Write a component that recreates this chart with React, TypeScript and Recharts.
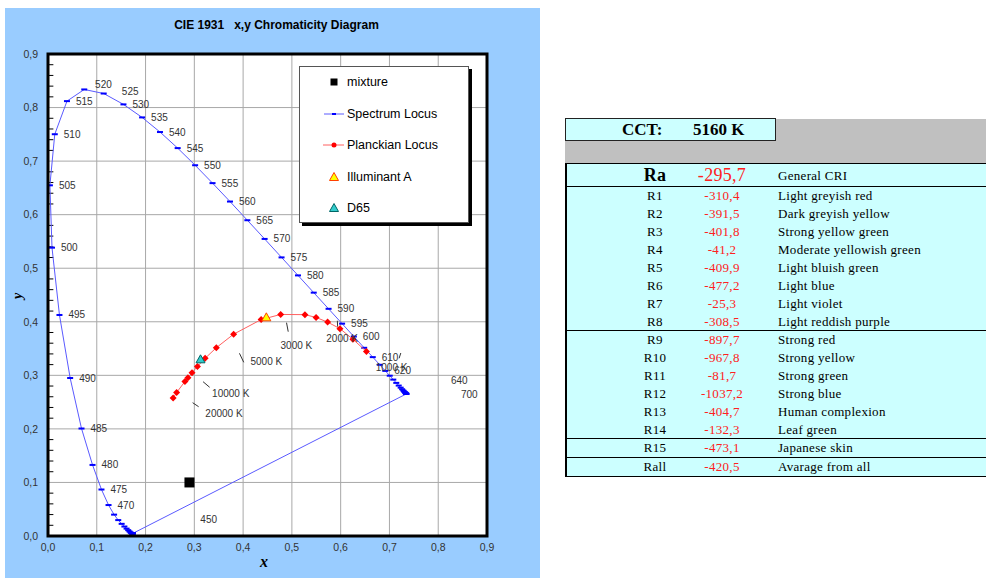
import { ScatterChart, Scatter, XAxis, YAxis, CartesianGrid, ReferenceLine, Legend } from "recharts"

// CIE 1931 spectral locus, every 5 nm
const wavelengths = [
  380, 385, 390, 395, 400, 405, 410, 415, 420, 425, 430, 435, 440, 445, 450, 455, 460, 465, 470, 475, 480, 485,
  490, 495, 500, 505, 510, 515, 520, 525, 530, 535, 540, 545, 550, 555, 560, 565, 570, 575, 580, 585, 590, 595,
  600, 605, 610, 615, 620, 625, 630, 635, 640, 645, 650, 655, 660, 665, 670, 675, 680, 685, 690, 695, 700,
]
const locusX = [
  0.1741, 0.174, 0.1738, 0.1736, 0.1733, 0.173, 0.1726, 0.1721, 0.1714, 0.1703, 0.1689, 0.1669, 0.1644, 0.1611,
  0.1566, 0.151, 0.144, 0.1355, 0.1241, 0.1096, 0.0913, 0.0687, 0.0454, 0.0235, 0.0082, 0.0039, 0.0139, 0.0389,
  0.0743, 0.1142, 0.1547, 0.1929, 0.2296, 0.2658, 0.3016, 0.3373, 0.3731, 0.4087, 0.4441, 0.4788, 0.5125, 0.5448,
  0.5752, 0.6029, 0.627, 0.6482, 0.6658, 0.6801, 0.6915, 0.7006, 0.7079, 0.714, 0.719, 0.723, 0.726, 0.7283, 0.73,
  0.7311, 0.732, 0.7327, 0.7334, 0.734, 0.7344, 0.7346, 0.7347,
]
const locusY = [
  0.005, 0.005, 0.0049, 0.0049, 0.0048, 0.0048, 0.0048, 0.0048, 0.0051, 0.0058, 0.0069, 0.0086, 0.0109, 0.0138,
  0.0177, 0.0227, 0.0297, 0.0399, 0.0578, 0.0868, 0.1327, 0.2007, 0.295, 0.4127, 0.5384, 0.6548, 0.7502, 0.812,
  0.8338, 0.8262, 0.8059, 0.7816, 0.7543, 0.7243, 0.6923, 0.6589, 0.6245, 0.5896, 0.5547, 0.5202, 0.4866, 0.4544,
  0.4242, 0.3965, 0.3725, 0.3514, 0.334, 0.3197, 0.3083, 0.2993, 0.292, 0.2859, 0.2809, 0.277, 0.274, 0.2717, 0.27,
  0.2689, 0.268, 0.2673, 0.2666, 0.266, 0.2656, 0.2654, 0.2653,
]
// wavelengths whose label sits right next to the mark
const labeledWl = [
  470, 475, 480, 485, 490, 495, 500, 505, 510, 515, 530, 535, 540, 545, 550, 555, 560, 565, 570, 575, 580, 585,
  590, 595, 600, 610, 620,
]
// labels Excel pushed away from their marks
const wlNotes = [
  { x: 0.0966, y: 0.8434, text: "520" },
  { x: 0.1514, y: 0.8296, text: "525" },
  { x: 0.3123, y: 0.0312, text: "450" },
  { x: 0.826, y: 0.29, text: "640" },
  { x: 0.8466, y: 0.2651, text: "700" },
]

// Planckian locus
const planckT = [1000, 1200, 1400, 1600, 1800, 2000, 2500, 3000, 4000, 5000, 6000, 7000, 8000, 9000, 10000, 15000, 20000]
const planckX = [0.6528, 0.6251, 0.5985, 0.5732, 0.5496, 0.5267, 0.477, 0.4369, 0.3805, 0.3451, 0.3221, 0.3064, 0.2952, 0.2869, 0.2807, 0.2637, 0.2565]
const planckY = [0.3444, 0.3674, 0.3872, 0.3994, 0.4081, 0.4133, 0.4137, 0.4041, 0.3768, 0.3516, 0.3318, 0.3166, 0.3048, 0.2956, 0.2884, 0.268, 0.2577]

const tempNotes = [
  { x: 0.3226, y: 0.2291, text: "20000 K" },
  { x: 0.3364, y: 0.2665, text: "10000 K" },
  { x: 0.4151, y: 0.3249, text: "5000 K" },
  { x: 0.4767, y: 0.3548, text: "3000 K" },
  { x: 0.5706, y: 0.3691, text: "2000 K" },
  { x: 0.6719, y: 0.3143, text: "1000 K" },
]
const tempLeaders = [
  [0.2965, 0.2489, 0.3088, 0.2414],
  [0.3179, 0.2881, 0.3314, 0.2777],
  [0.3925, 0.3411, 0.4013, 0.3243],
  [0.489, 0.3983, 0.4925, 0.3815],
  [0.5932, 0.402, 0.5938, 0.3908],
  [0.7233, 0.3417, 0.7198, 0.3318],
]

const illumA = [{ x: 0.4476, y: 0.4074 }]
const d65 = [{ x: 0.3127, y: 0.329 }]
const mixture = [{ x: 0.29, y: 0.1 }]

const axisTicks = [0, 0.1, 0.2, 0.3, 0.4, 0.5, 0.6, 0.7, 0.8, 0.9]

// CRI table
const cctLabel = "5160 K"
const raValue = -295.7
const criCodes = ["R1", "R2", "R3", "R4", "R5", "R6", "R7", "R8", "R9", "R10", "R11", "R12", "R13", "R14", "R15", "Rall"]
const criValues = [-310.4, -391.5, -401.8, -41.2, -409.9, -477.2, -25.3, -308.5, -897.7, -967.8, -81.7, -1037.2, -404.7, -132.3, -473.1, -420.5]
const criNames = [
  "Light greyish red",
  "Dark greyish yellow",
  "Strong yellow green",
  "Moderate yellowish green",
  "Light bluish green",
  "Light blue",
  "Light violet",
  "Light reddish purple",
  "Strong red",
  "Strong yellow",
  "Strong green",
  "Strong blue",
  "Human complexion",
  "Leaf green",
  "Japanese skin",
  "Avarage from all",
]
const groupEnds = ["R8", "R14", "R15"]

const comma = (v: number, d = 1) => v.toFixed(d).replace(".", ",")

const locusData = wavelengths.map((w, i) => ({
  x: locusX[i],
  y: locusY[i],
  label: labeledWl.includes(w) ? String(w) : "",
}))
// close the horseshoe with the line of purples
locusData.push({ x: locusX[0], y: locusY[0], label: "" })

const planckData = planckT.map((t, i) => ({ x: planckX[i], y: planckY[i], t }))

const yMinor = Array.from({ length: 46 }, (_, i) => i * 0.02).filter((v) => Math.round(v * 100) % 10 !== 0 && v < 0.9)

const noteStyle = { fontSize: 10, fill: "#333" }

const LocusMark = (p: any) => (
  <g>
    <rect x={p.cx - 3} y={p.cy - 1} width={6} height={2} fill="#0000ff" />
    {p.payload?.label ? (
      <text x={p.cx + 9} y={p.cy} dy="0.35em" {...noteStyle}>
        {p.payload.label}
      </text>
    ) : null}
  </g>
)

const NoteMark = (p: any) => (
  <text x={p.cx} y={p.cy} dy="0.35em" {...noteStyle}>
    {p.payload?.text}
  </text>
)

const Diamond = (p: any) => (
  <path d={`M${p.cx},${p.cy - 3.5}L${p.cx + 3.5},${p.cy}L${p.cx},${p.cy + 3.5}L${p.cx - 3.5},${p.cy}Z`} fill="#ff0000" />
)

const tri = (cx: number, cy: number, fill: string, stroke: string) => (
  <path d={`M${cx},${cy - 5}L${cx + 4.5},${cy + 3}L${cx - 4.5},${cy + 3}Z`} fill={fill} stroke={stroke} strokeWidth={1} />
)

const Square = (p: any) => <rect x={p.cx - 5} y={p.cy - 5} width={10} height={10} fill="#000" />

const legendItems = [
  { name: "mixture", kind: "square" },
  { name: "Spectrum Locus", kind: "blue" },
  { name: "Planckian Locus", kind: "red" },
  { name: "Illuminant A", kind: "a" },
  { name: "D65", kind: "d65" },
]

function LegendSymbol({ kind }: { kind: string }) {
  return (
    <svg width={47} height={16} style={{ display: "block", flex: "none" }}>
      {kind === "square" && <rect x={30.5} y={4.5} width={7} height={7} fill="#000" />}
      {kind === "blue" && (
        <>
          <line x1={24} x2={44} y1={8} y2={8} stroke="#5a5aff" />
          <rect x={32} y={7} width={4} height={2} fill="#0000ff" />
        </>
      )}
      {kind === "red" && (
        <>
          <line x1={23} x2={44} y1={8} y2={8} stroke="#ff6060" />
          <circle cx={34} cy={8} r={2.5} fill="#ff0000" />
        </>
      )}
      {kind === "a" && tri(34, 8.5, "#ffff00", "#ff4000")}
      {kind === "d65" && tri(34, 8.5, "#33cccc", "#006666")}
    </svg>
  )
}

function LegendBox() {
  return (
    <div
      style={{
        width: 170,
        height: 157,
        boxSizing: "border-box",
        background: "#fff",
        border: "1px solid #555",
        boxShadow: "3px 3px 0 #000",
        position: "relative",
        fontSize: 12.5,
        color: "#000",
      }}
    >
      {legendItems.map((it, i) => (
        <div
          key={it.name}
          style={{ position: "absolute", left: 0, top: 7 + i * 31.5, height: 16, display: "flex", alignItems: "center" }}
        >
          <LegendSymbol kind={it.kind} />
          <span style={{ whiteSpace: "nowrap" }}>{it.name}</span>
        </div>
      ))}
    </div>
  )
}

function CriTable() {
  const serif = '"Liberation Serif", "Times New Roman", serif'
  const cell = (h: number, border: boolean) => ({
    position: "relative" as const,
    height: h,
    borderBottom: border ? "1px solid #000" : "none",
    boxSizing: "border-box" as const,
  })
  return (
    <div style={{ position: "absolute", left: 565, top: 118, width: 430, height: 360, fontFamily: serif }}>
      <div style={{ position: "absolute", left: 0, top: 1, width: 430, height: 44, background: "#c0c0c0" }} />
      <div
        style={{
          position: "absolute",
          left: 0,
          top: 0,
          width: 211,
          height: 23,
          boxSizing: "border-box",
          background: "#ccffff",
          border: "1.5px solid #222",
          fontWeight: "bold",
          fontSize: 17,
        }}
      >
        <span style={{ position: "absolute", left: 56, top: 1 }}>CCT:</span>
        <span style={{ position: "absolute", left: 127, top: 1 }}>{cctLabel}</span>
      </div>
      <div
        style={{
          position: "absolute",
          left: 0,
          top: 45,
          width: 430,
          background: "#ccffff",
          borderLeft: "2px solid #000",
          borderTop: "1.5px solid #000",
          borderBottom: "1.5px solid #000",
          boxSizing: "border-box",
          fontSize: 13,
          letterSpacing: 0.3,
        }}
      >
        <div style={cell(23, true)}>
          <span style={{ position: "absolute", left: 62, width: 52, textAlign: "center", top: 1, fontSize: 18, fontWeight: "bold" }}>
            Ra
          </span>
          <span style={{ position: "absolute", left: 115, width: 80, textAlign: "center", top: 1, fontSize: 18, color: "#ff2020" }}>
            {comma(raValue)}
          </span>
          <span style={{ position: "absolute", left: 211, top: 4 }}>General CRI</span>
        </div>
        {criCodes.map((c, i) => (
          <div key={c} style={cell(c === "R15" ? 19 : 18, groupEnds.includes(c))}>
            <span style={{ position: "absolute", left: 62, width: 52, textAlign: "center", top: 1 }}>{c}</span>
            <span style={{ position: "absolute", left: 115, width: 80, textAlign: "center", top: 1, color: "#ff2020" }}>
              {comma(criValues[i])}
            </span>
            <span style={{ position: "absolute", left: 211, top: 1, whiteSpace: "nowrap" }}>{criNames[i]}</span>
          </div>
        ))}
      </div>
    </div>
  )
}

export default function App() {
  return (
    <div
      style={{
        position: "absolute",
        left: 0,
        top: 0,
        width: 986,
        height: 578,
        background: "#fff",
        overflow: "hidden",
        fontFamily: '"Liberation Sans", Arial, sans-serif',
      }}
    >
      <div style={{ position: "absolute", left: 5, top: 8, width: 535, height: 570, background: "#99ccff" }}>
        <div
          style={{
            position: "absolute",
            left: 0,
            top: 10,
            width: 543,
            textAlign: "center",
            fontSize: 12,
            fontWeight: "bold",
            whiteSpace: "pre",
            zIndex: 2,
          }}
        >
          {"CIE 1931   x,y Chromaticity Diagram"}
        </div>
        {/* white plot background */}
        <div style={{ position: "absolute", left: 43, top: 46, width: 439, height: 482, background: "#fff" }} />
        <div style={{ position: "absolute", left: 0, top: 0, width: 535, height: 570 }}>
          <ScatterChart width={535} height={570} margin={{ top: 46, right: 53, bottom: 12, left: 3 }}>
            <CartesianGrid stroke="#a8a8a8" strokeWidth={1} />
            <XAxis
              type="number"
              dataKey="x"
              domain={[0, 0.9]}
              ticks={axisTicks}
              tickFormatter={(v: number) => comma(v)}
              height={30}
              axisLine={false}
              tickLine={false}
              tickMargin={2}
              tick={{ fill: "#333", fontSize: 10.5 }}
              allowDataOverflow
            />
            <YAxis
              type="number"
              dataKey="y"
              domain={[0, 0.9]}
              ticks={axisTicks}
              tickFormatter={(v: number) => comma(v)}
              width={40}
              axisLine={false}
              tickLine={false}
              tickMargin={4}
              tick={{ fill: "#333", fontSize: 10.5 }}
              allowDataOverflow
            />
            {yMinor.map((v) => (
              <ReferenceLine key={v} segment={[{ x: 0, y: v }, { x: 0.011, y: v }]} stroke="#000" strokeWidth={1} />
            ))}
            {tempLeaders.map(([x1, y1, x2, y2], i) => (
              <ReferenceLine key={"l" + i} segment={[{ x: x1, y: y1 }, { x: x2, y: y2 }]} stroke="#333" strokeWidth={1} />
            ))}
            <Scatter
              name="Spectrum Locus"
              data={locusData}
              line={{ stroke: "#5a5aff", strokeWidth: 1 }}
              lineType="joint"
              shape={LocusMark}
              isAnimationActive={false}
            />
            <Scatter
              name="Planckian Locus"
              data={planckData}
              line={{ stroke: "#ff6060", strokeWidth: 1 }}
              lineType="joint"
              shape={Diamond}
              isAnimationActive={false}
            />
            <Scatter name="wl notes" data={wlNotes} shape={NoteMark} isAnimationActive={false} />
            <Scatter name="temp notes" data={tempNotes} shape={NoteMark} isAnimationActive={false} />
            <Scatter
              name="Illuminant A"
              data={illumA}
              shape={(p: any) => tri(p.cx, p.cy, "#ffff00", "#ff4000")}
              isAnimationActive={false}
            />
            <Scatter name="D65" data={d65} shape={(p: any) => tri(p.cx, p.cy, "#33cccc", "#006666")} isAnimationActive={false} />
            <Scatter name="mixture" data={mixture} shape={Square} isAnimationActive={false} />
            <Legend
              layout="vertical"
              align="center"
              verticalAlign="middle"
              wrapperStyle={{ left: 294, top: 58, width: 170 }}
              content={() => <LegendBox />}
            />
          </ScatterChart>
        </div>
        {/* plot frame, drawn over the chart */}
        <svg
          width={535}
          height={570}
          style={{ position: "absolute", left: 0, top: 0, zIndex: 5, pointerEvents: "none" }}
        >
          <rect x={43} y={46} width={439} height={482} fill="none" stroke="#000" strokeWidth={3} />
        </svg>
        <div
          style={{
            position: "absolute",
            left: 255,
            top: 545,
            fontFamily: '"Liberation Serif", serif',
            fontStyle: "italic",
            fontWeight: "bold",
            fontSize: 16,
          }}
        >
          x
        </div>
        <div
          style={{
            position: "absolute",
            left: 10,
            top: 280,
            fontFamily: '"Liberation Serif", serif',
            fontStyle: "italic",
            fontWeight: "bold",
            fontSize: 14,
            transform: "rotate(-90deg)",
          }}
        >
          y
        </div>
      </div>
      <CriTable />
    </div>
  )
}
